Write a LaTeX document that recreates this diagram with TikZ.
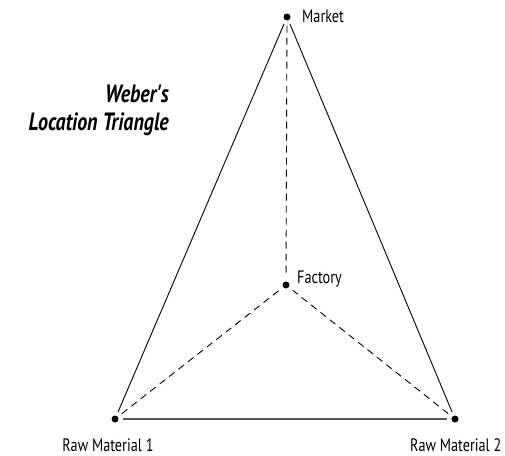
\documentclass[tikz,border=0pt]{standalone}
\usepackage{fontspec}
\setmainfont{PT Sans}
\newfontfamily\narrowfont[FakeStretch=0.79]{PT Sans}
\newfontfamily\titlefont[FakeStretch=0.8]{PT Sans}
\usetikzlibrary{positioning}

\begin{document}
\begin{tikzpicture}[x=1pt,y=-1pt]
\tikzset{
  site/.style={circle,fill=black,inner sep=0pt,minimum size=7pt},
  lbl/.style={font=\narrowfont\fontsize{18}{21}\selectfont,inner sep=0pt},
  side/.style={line width=0.9pt,shorten <=4pt,shorten >=4pt},
  pull/.style={dashed,line width=0.9pt,dash pattern=on 7pt off 5pt,shorten <=5pt,shorten >=5pt}
}
\useasboundingbox (0,0) rectangle (505,455);

% Corners and centre
\node[site] (mkt) at (287,17) {};
\node[site] (fac) at (286,285) {};
\node[site] (rm1) at (115,419) {};
\node[site] (rm2) at (455,419) {};

% Labels
\node[lbl,anchor=base west] at (302,22) {Market};
\node[lbl,anchor=base west] at (297,283) {Factory};
\node[lbl,anchor=base] at (108,451) {Raw Material 1};
\node[lbl,anchor=base west] at (410,451) {Raw Material 2};

% Title
\node[font=\titlefont\fontsize{25}{28}\selectfont\bfseries\itshape,align=right,anchor=north east,inner sep=0pt] at (169,85)
  {Weber's\\Location Triangle};

% Triangle
\draw[side] (mkt)--(rm1);
\draw[side] (mkt)--(rm2);
\draw[side,gray!70!black,line width=1.6pt] (rm1)--(rm2);

% Pulls towards the factory
\draw[pull] (mkt)--(fac);
\draw[pull] (rm1)--(fac);
\draw[pull] (rm2)--(fac);

\end{tikzpicture}
\end{document}
